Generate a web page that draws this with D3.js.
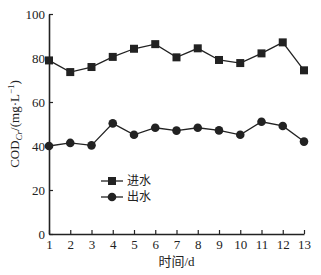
<!DOCTYPE html>
<html>
<head>
<meta charset="utf-8">
<script src="https://cdn.jsdelivr.net/npm/d3@7"></script>
<style>
  body { margin: 0; background: #fff; }
  svg { display: block; }
</style>
</head>
<body>
<div id="chart"></div>
<script>
// data
var days = [1, 2, 3, 4, 5, 6, 7, 8, 9, 10, 11, 12, 13];
var inflow = [78.9, 73.6, 75.9, 80.5, 84.2, 86.3, 80.3, 84.4, 79.1, 77.7, 82.1, 87.1, 74.4];
var outflow = [40.0, 41.4, 40.3, 50.3, 45.1, 48.3, 47.0, 48.3, 47.1, 45.1, 51.0, 49.1, 42.0];
var yTicks = [0, 20, 40, 60, 80, 100];
var seriesNames = ["进水", "出水"];

var W = 321, H = 275;
var margin = {top: 14, right: 17, bottom: 41, left: 49},
    width = W - margin.left - margin.right,
    height = H - margin.top - margin.bottom;

var ink = "#222";
var numFont = "'Liberation Serif', 'Times New Roman', serif";
var cjkFont = "'Noto Sans CJK SC', sans-serif";

var svg = d3.select("#chart").append("svg")
    .attr("width", W)
    .attr("height", H);

var g = svg.append("g")
    .attr("transform", "translate(" + margin.left + "," + margin.top + ")");

// set the ranges
var x = d3.scaleLinear().domain([1, 13]).range([0, width]);
var y = d3.scaleLinear().domain([0, 100]).range([height, 0]);

// x axis, ticks pointing inward
var xAxis = g.append("g")
    .attr("transform", "translate(0," + height + ")")
    .call(d3.axisBottom(x).tickValues(days).tickFormat(d3.format("d")).tickSizeInner(-4).tickSizeOuter(0).tickPadding(6));

// y axis
var yAxis = g.append("g")
    .call(d3.axisLeft(y).tickValues(yTicks).tickSizeInner(-4).tickSizeOuter(0).tickPadding(4));

[xAxis, yAxis].forEach(function(ax) {
    ax.select(".domain").attr("stroke", ink).attr("stroke-width", 1.6);
    ax.selectAll(".tick line").attr("stroke", ink).attr("stroke-width", 1.2);
    ax.selectAll(".tick text")
        .attr("fill", ink)
        .style("font-family", numFont)
        .style("font-size", "13px");
});

// lines
var line = d3.line()
    .x(function(d, i) { return x(days[i]); })
    .y(function(d) { return y(d); });

[inflow, outflow].forEach(function(vals) {
    g.append("path")
        .datum(vals)
        .attr("fill", "none")
        .attr("stroke", ink)
        .attr("stroke-width", 1.3)
        .attr("d", line);
});

// markers
var sq = 8;
g.selectAll(".sq")
    .data(inflow)
    .enter().append("rect")
    .attr("x", function(d, i) { return x(days[i]) - sq / 2; })
    .attr("y", function(d) { return y(d) - sq / 2; })
    .attr("width", sq)
    .attr("height", sq)
    .attr("fill", ink);

g.selectAll(".dot")
    .data(outflow)
    .enter().append("circle")
    .attr("cx", function(d, i) { return x(days[i]); })
    .attr("cy", function(d) { return y(d); })
    .attr("r", 4.3)
    .attr("fill", ink);

// legend
var legend = g.append("g").attr("transform", "translate(52,167)");
seriesNames.forEach(function(name, i) {
    var row = legend.append("g").attr("transform", "translate(0," + (i * 16) + ")");
    row.append("line")
        .attr("x1", 0).attr("x2", 22)
        .attr("stroke", ink).attr("stroke-width", 1.3);
    if (i === 0) {
        row.append("rect")
            .attr("x", 11 - sq / 2).attr("y", -sq / 2)
            .attr("width", sq).attr("height", sq)
            .attr("fill", ink);
    } else {
        row.append("circle")
            .attr("cx", 11).attr("r", 4.3)
            .attr("fill", ink);
    }
    row.append("text")
        .attr("x", 26)
        .attr("dy", "0.35em")
        .attr("fill", ink)
        .style("font-family", cjkFont)
        .style("font-size", "12px")
        .text(name);
});

// axis titles
svg.append("text")
    .attr("x", margin.left + width / 2)
    .attr("y", 266)
    .attr("text-anchor", "middle")
    .attr("fill", ink)
    .style("font-size", "13px")
    .call(function(t) {
        t.append("tspan").style("font-family", cjkFont).text("时间");
        t.append("tspan").style("font-family", numFont).text("/d");
    });

var yt = svg.append("text")
    .attr("transform", "translate(19," + (margin.top + height / 2) + ") rotate(-90)")
    .attr("text-anchor", "middle")
    .attr("fill", ink)
    .style("font-family", numFont)
    .style("font-size", "13px");
yt.append("tspan").text("COD");
yt.append("tspan").attr("dy", 3).style("font-size", "9px").style("font-style", "italic").text("Cr");
yt.append("tspan").attr("dy", -3).text("/(mg·L");
yt.append("tspan").attr("dy", -5).style("font-size", "9px").text("−1");
yt.append("tspan").attr("dy", 5).text(")");
</script>
</body>
</html>
